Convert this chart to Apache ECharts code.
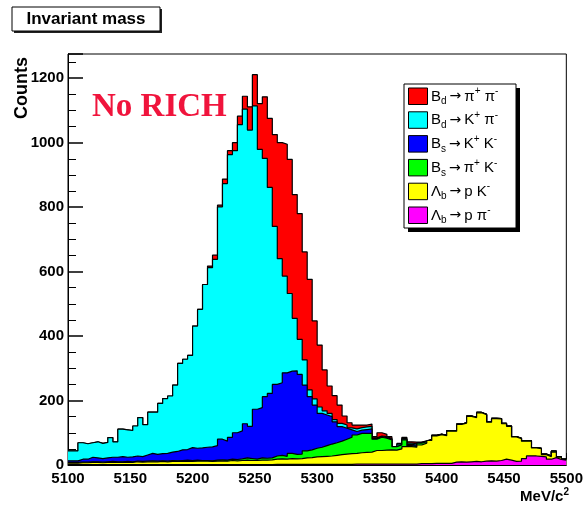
<!DOCTYPE html>
<html><head><meta charset="utf-8">
<script src="https://cdn.jsdelivr.net/npm/echarts@6/dist/echarts.min.js"></script>
<style>html,body{margin:0;padding:0;background:#fff}#c{width:586px;height:511px}</style>
</head><body><div id="c"></div>
<script>
// Histogram range and binning (100 bins of 4 MeV/c^2)
const massRange = [5100, 5500];
const nBins = 100;
const xTickLabels = [5100, 5150, 5200, 5250, 5300, 5350, 5400, 5450, 5500];
const yTickLabels = [0, 200, 400, 600, 800, 1000, 1200];

// Stacked (cumulative) histogram levels, as drawn by ROOT's THStack,
// listed from the top of the stack down to the bottom.
const cumBdPiPi = [44,44,69,66,69,72,67,70,85,72,111,109,107,121,147,125,164,164,191,206,214,248,315,328,340,431,
 483,560,617,651,806,887,975,1000,1082,1144,1111,1211,1121,1142,1075,1025,1000,995,948,839,780,661,576,447,372,295,
 245,215,186,152,131,124,124,124,127,88,100,95,88,57,67,86,72,71,71,75,80,93,96,92,106,
 106,127,131,152,148,163,157,134,145,144,129,121,88,83,75,75,54,52,34,28,43,26,18];
const cumBdKPi = [44,44,69,66,69,72,67,70,85,72,111,109,107,121,147,125,164,164,191,206,214,248,315,328,340,431,
 483,560,612,638,801,873,963,975,1056,1104,1039,1114,979,951,861,740,640,586,532,455,390,326,233,205,180,168,
 160,141,129,124,115,112,116,118,120,84,90,88,82,57,65,82,68,66,70,74,79,92,95,92,106,
 106,127,131,152,148,163,157,134,145,144,129,121,88,83,75,75,54,52,34,28,43,26,18];
const cumBsKK = [13,13,18,18,24,22,20,22,24,24,26,24,25,28,26,31,36,33,35,36,40,42,47,48,54,52,
 53,55,56,60,80,74,86,100,106,128,120,173,178,212,222,250,255,286,291,292,281,248,212,186,160,155,
 150,134,119,114,109,104,108,110,112,82,88,85,80,57,63,80,64,62,69,73,78,92,95,92,106,
 106,127,131,152,148,163,157,134,145,144,129,121,88,83,75,75,54,52,34,28,43,26,18];
const cumBsPiK = [8,8,9,9,10,10,9,10,11,10,10,11,10,12,11,12,13,12,13,12,14,13,14,15,14,15,
 14,14,13,15,16,15,18,17,19,22,20,18,22,21,22,28,30,27,36,33,34,44,47,52,55,60,
 65,69,74,80,86,93,98,98,98,80,86,83,78,57,62,78,60,58,68,72,78,91,95,92,106,
 106,127,131,152,148,163,157,134,145,144,129,121,88,83,75,75,54,52,34,28,43,26,18];
const cumLbPK = [6,6,7,7,8,8,7,8,9,8,8,9,8,10,9,10,10,10,11,10,11,11,11,12,11,12,
 12,12,11,12,13,12,14,13,14,15,14,14,15,15,16,18,19,18,20,19,20,22,23,25,26,27,
 28,30,32,34,35,36,38,39,40,45,45,46,47,46,50,57,57,55,62,68,76,90,94,91,105,
 105,126,130,151,147,162,156,133,144,143,128,120,87,82,74,74,53,51,32,26,40,24,17];
const cumLbPPi = [1,1,1,1,1,1,1,1,1,1,1,1,1,1,1,1,1,1,1,1,1,1,1,1,1,1,
 1,1,1,1,1,1,1,1,1,1,1,1,1,1,1,2,2,2,2,2,2,2,2,2,2,2,
 2,2,2,2,2,3,3,3,3,3,3,3,3,3,3,3,3,3,4,4,4,5,5,5,5,
 9,10,9,10,11,10,12,13,12,14,18,15,11,12,20,28,28,27,25,18,23,17,15];

const seriesLabels = [
  '{n|B}{sub|d}{a|\u2192}{n|\u03c0}{sup|+}{n| \u03c0}{sup|-}',
  '{n|B}{sub|d}{a|\u2192}{n|K}{sup|+}{n| \u03c0}{sup|-}',
  '{n|B}{sub|s}{a|\u2192}{n|K}{sup|+}{n| K}{sup|-}',
  '{n|B}{sub|s}{a|\u2192}{n|\u03c0}{sup|+}{n| K}{sup|-}',
  '{n|\u039b}{sub|b}{a|\u2192}{n|p K}{sup|-}',
  '{n|\u039b}{sub|b}{a|\u2192}{n|p \u03c0}{sup|-}'
];
const seriesColors = ['#ff0000', '#00ffff', '#0000ff', '#00ff00', '#ffff00', '#ff00ff'];
const stackLevels = [cumBdPiPi, cumBdKPi, cumBsKK, cumBsPiK, cumLbPK, cumLbPPi];

const binWidth = (massRange[1] - massRange[0]) / nBins;
function histPoints(arr) {
  const pts = arr.map((v, i) => [massRange[0] + i * binWidth, v]);
  pts.push([massRange[1], arr[arr.length - 1]]);
  return pts;
}

const FONT = '"Liberation Sans", Arial, Helvetica, sans-serif';
const chart = echarts.init(document.getElementById('c'), null, {renderer: 'canvas'});

const series = stackLevels.map((arr, k) => ({
  type: 'line',
  step: 'end',
  data: histPoints(arr),
  symbol: 'none',
  z: 2 + k,
  silent: true,
  animation: false,
  lineStyle: {color: '#000', width: 1.2},
  areaStyle: {color: seriesColors[k], opacity: 1, origin: 'start'}
}));

const richText = {
  n: {fontFamily: FONT, fontSize: 15, color: '#000', lineHeight: 20, verticalAlign: 'middle'},
  a: {fontFamily: '"DejaVu Sans", sans-serif', fontSize: 14, color: '#000', lineHeight: 20, verticalAlign: 'middle', padding: [0, 3, 0, 3]},
  sub: {fontFamily: FONT, fontSize: 10, color: '#000', lineHeight: 20, verticalAlign: 'bottom'},
  sup: {fontFamily: FONT, fontSize: 10, color: '#000', lineHeight: 20, verticalAlign: 'top'}
};

const legendEls = [
  {type: 'rect', shape: {x: 408, y: 88, width: 112, height: 144}, style: {fill: '#000'}, z: 100},
  {type: 'rect', shape: {x: 404, y: 84, width: 112, height: 144}, style: {fill: '#fff', stroke: '#000', lineWidth: 1}, z: 101}
];
seriesLabels.forEach((lab, k) => {
  const y0 = 88 + k * 23.8;
  legendEls.push({type: 'rect', shape: {x: 408.5, y: y0, width: 19, height: 16.5},
    style: {fill: seriesColors[k], stroke: '#000', lineWidth: 1}, z: 102});
  legendEls.push({type: 'text', x: 431, y: y0 + 8.5, z: 102,
    style: {text: lab, rich: richText, align: 'left', verticalAlign: 'middle'}});
});

const option = {
  animation: false,
  backgroundColor: '#fff',
  grid: {left: 68, right: 16, top: 54, bottom: 46, show: true, borderColor: '#000', borderWidth: 1, backgroundColor: 'transparent'},
  xAxis: {
    type: 'value', min: massRange[0], max: massRange[1], interval: 50,
    axisLine: {show: true, lineStyle: {color: '#000', width: 1}},
    axisTick: {show: true, inside: true, length: 12, lineStyle: {color: '#000'}},
    minorTick: {show: true, splitNumber: 5, length: 6, lineStyle: {color: '#000'}},
    splitLine: {show: false},
    axisLabel: {color: '#000', fontFamily: FONT, fontWeight: 'bold', fontSize: 15, margin: 6,
      formatter: v => (xTickLabels.indexOf(v) >= 0 ? String(v) : '')}
  },
  yAxis: {
    type: 'value', min: 0, max: 1275, interval: 200,
    axisLine: {show: true, lineStyle: {color: '#000', width: 1}},
    axisTick: {show: true, inside: true, length: 15, lineStyle: {color: '#000', width: 1.5}},
    minorTick: {show: true, splitNumber: 4, length: 8, lineStyle: {color: '#000', width: 1}},
    splitLine: {show: false},
    axisLabel: {color: '#000', fontFamily: FONT, fontWeight: 'bold', fontSize: 15, margin: 4, showMaxLabel: false,
      formatter: v => (yTickLabels.indexOf(v) >= 0 ? String(v) : '')}
  },
  series: series,
  graphic: [
    {type: 'rect', shape: {x: 14, y: 9, width: 148, height: 24}, style: {fill: '#222'}, z: 100},
    {type: 'rect', shape: {x: 12, y: 7, width: 148, height: 24}, style: {fill: '#fff', stroke: '#000', lineWidth: 1}, z: 101},
    {type: 'text', x: 86, y: 19.5, z: 102, style: {text: 'Invariant mass', fontFamily: FONT, fontWeight: 'bold', fontSize: 17, fill: '#000', align: 'center', verticalAlign: 'middle'}},
    {type: 'text', x: 22, y: 57, rotation: Math.PI / 2, z: 102, style: {text: 'Counts', fontFamily: FONT, fontWeight: 'bold', fontSize: 18, fill: '#000', align: 'right', verticalAlign: 'middle'}},
    {type: 'text', x: 569, y: 497, z: 102, style: {
      text: '{n|MeV/c}{s|2}', align: 'right', verticalAlign: 'middle',
      rich: {n: {fontFamily: FONT, fontWeight: 'bold', fontSize: 15, fill: '#000', lineHeight: 20, verticalAlign: 'middle'},
             s: {fontFamily: FONT, fontWeight: 'bold', fontSize: 10, fill: '#000', lineHeight: 20, verticalAlign: 'top'}}}},
    {type: 'text', x: 92, y: 107, z: 102, style: {text: 'No RICH', fontFamily: '"Liberation Serif", "Times New Roman", serif', fontWeight: 'bold', fontSize: 33, fill: '#f0143c', align: 'left', verticalAlign: 'middle'}}
  ].concat(legendEls)
};
chart.setOption(option);
</script></body></html>
